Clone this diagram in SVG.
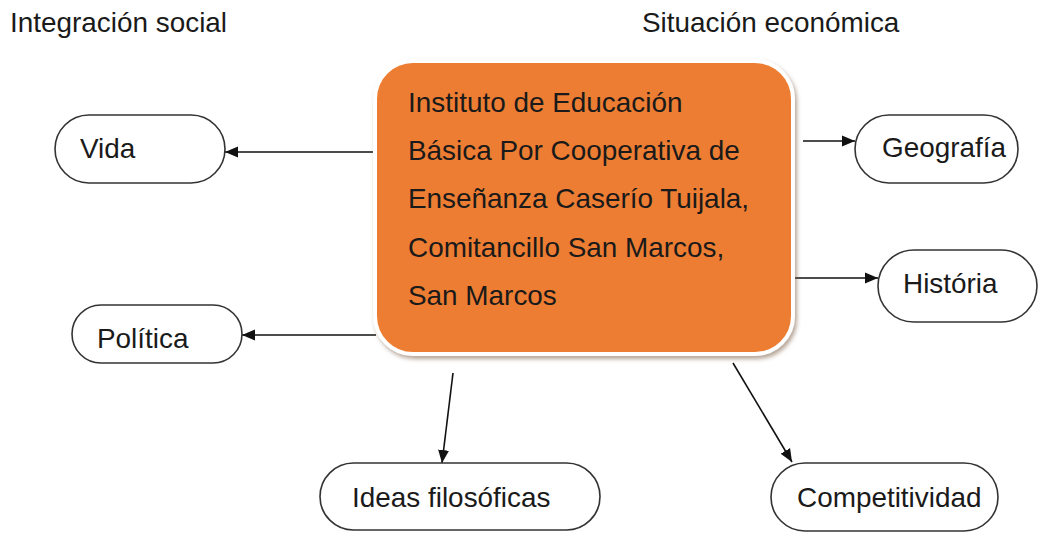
<svg xmlns="http://www.w3.org/2000/svg" width="1039" height="533" viewBox="0 0 1039 533">
<style>
text{font-family:"Liberation Sans",Arial,sans-serif;font-size:27.9px;fill:#1a1a1a}
.pill{fill:#fff;stroke:#333;stroke-width:1.6}
.conn{stroke:#111;stroke-width:1.6;fill:none;marker-end:url(#ah)}
</style>
<defs>
<marker id="ah" markerUnits="userSpaceOnUse" markerWidth="14" markerHeight="12" refX="13" refY="6" orient="auto">
<path d="M0,0.5 L13,6 L0,11.5 Z" fill="#111"/>
</marker>
<filter id="sh" x="-10%" y="-10%" width="120%" height="125%">
<feDropShadow dx="2" dy="3" stdDeviation="2" flood-color="#7a5a40" flood-opacity="0.55"/>
</filter>
</defs>
<rect width="1039" height="533" fill="#fff"/>
<text x="10" y="32">Integración social</text>
<text x="642" y="32">Situación económica</text>
<g id="connectors">
<line class="conn" x1="376" y1="152" x2="225" y2="152"/>
<line class="conn" x1="376" y1="335" x2="242" y2="335"/>
<line class="conn" x1="803" y1="141" x2="855" y2="141"/>
<line class="conn" x1="793" y1="278" x2="878" y2="278"/>
<line class="conn" x1="453" y1="373" x2="442" y2="463"/>
<line class="conn" x1="733" y1="363" x2="792" y2="462"/>
</g>
<g id="center">
<rect x="375" y="61" width="418" height="293" rx="38" fill="#ED7D31" stroke="#fff" stroke-width="4" filter="url(#sh)"/>
<text x="408" y="112">Instituto de Educación</text>
<text x="408" y="160">Básica Por Cooperativa de</text>
<text x="408" y="208">Enseñanza Caserío Tuijala,</text>
<text x="408" y="257">Comitancillo San Marcos,</text>
<text x="408" y="305">San Marcos</text>
</g>
<g id="vida">
<rect class="pill" x="55" y="115" width="170" height="68" rx="34"/>
<text x="80" y="158">Vida</text>
</g>
<g id="politica">
<rect class="pill" x="72" y="305" width="170" height="58" rx="29"/>
<text x="97" y="348">Política</text>
</g>
<g id="geografia">
<rect class="pill" x="855" y="115" width="163" height="68" rx="34"/>
<text x="882" y="157">Geografía</text>
</g>
<g id="historia">
<rect class="pill" x="878" y="250" width="159" height="72" rx="36"/>
<text x="903" y="293">História</text>
</g>
<g id="ideas">
<rect class="pill" x="320" y="463" width="280" height="67" rx="33.5"/>
<text x="352" y="507">Ideas filosóficas</text>
</g>
<g id="competitividad">
<rect class="pill" x="771" y="463" width="227" height="68" rx="34"/>
<text x="797" y="507">Competitividad</text>
</g>
</svg>
